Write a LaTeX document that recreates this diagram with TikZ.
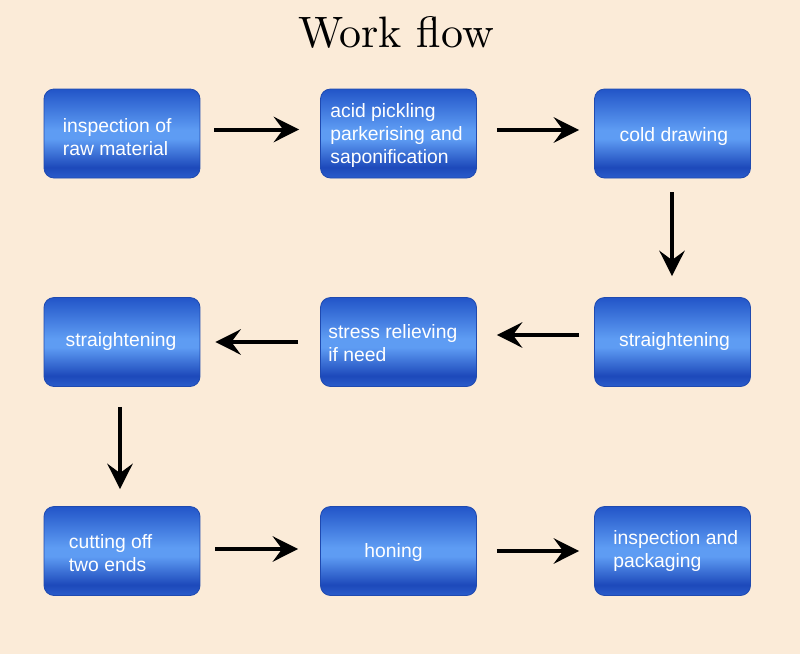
\documentclass[tikz,border=0pt]{standalone}
\usepackage{fontspec}
\newfontfamily\boxfont{Liberation Sans}
\newfontfamily\titlefont{lmroman10-regular}[Extension=.otf]
\usetikzlibrary{arrows.meta,calc}
\definecolor{bgc}{HTML}{FBEBD8}
\definecolor{btop}{HTML}{2255C8}
\definecolor{bmid}{HTML}{5E9CF3}
\definecolor{bdark}{HTML}{1D49BA}
\definecolor{bbot}{HTML}{2A5CCB}
\definecolor{bedge}{HTML}{1F4AB0}
\pgfdeclareverticalshading{boxshade}{100bp}{color(0bp)=(bbot); color(25bp)=(bbot); color(31bp)=(bdark); color(47bp)=(bmid); color(52bp)=(bmid); color(75bp)=(btop); color(100bp)=(btop)}
\tikzset{
  stepbox/.style={draw=bedge, line width=0.6pt, rounded corners=7.5pt, shading=boxshade,
    minimum width=117pt, minimum height=66.75pt, inner sep=0pt},
  txt/.style={text=white, font=\boxfont\fontsize{14.5}{17.3}\selectfont, align=left, inner sep=0pt},
  arr/.style={line width=3pt, -{Stealth[length=19pt,width=19pt,inset=7pt]}}
}
\begin{document}
\begin{tikzpicture}[x=0.75pt,y=-0.75pt]
\useasboundingbox (0,0) rectangle (800,654);
\fill[bgc] (0,0) rectangle (800,654);
\node[anchor=base, font=\titlefont\fontsize{33}{40}\selectfont] (title) at (396,47) {Work flow};
% boxes
\node[stepbox] (b1) at (122,133.5) {};
\node[stepbox] (b2) at (398.5,133.5) {};
\node[stepbox] (b3) at (672.5,133.5) {};
\node[stepbox] (b4) at (122,342) {};
\node[stepbox] (b5) at (398.5,342) {};
\node[stepbox] (b6) at (672.5,342) {};
\node[stepbox] (b7) at (122,551) {};
\node[stepbox] (b8) at (398.5,551) {};
\node[stepbox] (b9) at (672.5,551) {};
% texts
\node[txt, anchor=west] (t1) at ($(b1.west)+(19,3.8)$) {inspection of\\raw material};
\node[txt, anchor=west] (t2) at ($(b2.west)+(10,2)$) {acid pickling\\parkerising and\\saponification};
\node[txt] (t3) at (674,136.5) {cold drawing};
\node[txt] (t4) at (121,341.5) {straightening};
\node[txt, anchor=west] (t5) at ($(b5.west)+(8,0.8)$) {stress relieving\\if need};
\node[txt] (t6) at (674.5,341.5) {straightening};
\node[txt, anchor=west] (t7) at ($(b7.west)+(25,2.2)$) {cutting off\\two ends};
\node[txt] (t8) at (393.5,552.5) {honing};
\node[txt, anchor=west] (t9) at ($(b9.west)+(19,0.3)$) {inspection and\\packaging};
% arrows
\draw[arr, shorten <=10.5pt, shorten >=15.75pt] ($(b1.east)+(0,-4)$) -- ($(b2.west)+(0,-4)$);
\draw[arr, shorten <=15pt, shorten >=11.25pt] ($(b2.east)+(0,-3.5)$) -- ($(b3.west)+(0,-3.5)$);
\draw[arr, shorten <=10.5pt, shorten >=15.75pt] ($(b3.south)+(-0.5,0)$) -- ($(b6.north)+(-0.5,0)$);
\draw[arr, shorten <=11.25pt, shorten >=15pt] ($(b6.west)+(0,-7)$) -- ($(b5.east)+(0,-7)$);
\draw[arr, shorten <=16.5pt, shorten >=11.25pt] (b5.west) -- (b4.east);
\draw[arr, shorten <=15pt, shorten >=12.75pt] ($(b4.south)+(-2,0)$) -- ($(b7.north)+(-2,0)$);
\draw[arr, shorten <=11.25pt, shorten >=16.5pt] ($(b7.east)+(0,-2)$) -- ($(b8.west)+(0,-2)$);
\draw[arr, shorten <=15pt, shorten >=11.25pt] (b8.east) -- (b9.west);
\end{tikzpicture}
\end{document}
